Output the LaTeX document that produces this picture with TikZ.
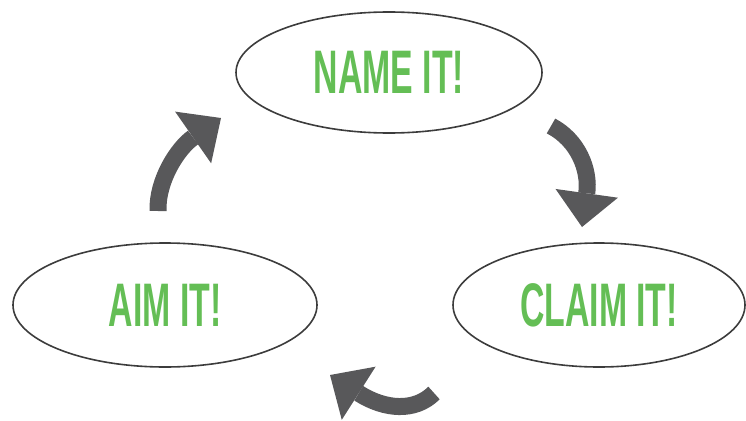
\documentclass[tikz,border=0pt]{standalone}
\usepackage{fontspec}
\usepackage{graphicx}
\setmainfont{Liberation Sans}
\usetikzlibrary{shapes.geometric,arrows.meta}
\definecolor{txtgreen}{HTML}{64BE55}
\definecolor{arrowgray}{HTML}{58585A}
\definecolor{rimgray}{HTML}{3C3C3C}
\tikzset{
  bubble/.style={ellipse, draw=rimgray, line width=1.6pt, inner sep=0pt,
    text=txtgreen, font=\bfseries\fontsize{61.5}{70}\selectfont},
  bigarrow/.style={draw=arrowgray, line width=17pt,
    -{Triangle[length=34pt,width=63pt,line width=0pt]}}
}
\newcommand{\cond}[1]{\scalebox{0.55}[1]{#1}}
\begin{document}
\begin{tikzpicture}[x=1pt,y=-1pt]
\useasboundingbox (0,0) rectangle (746,420);
\node[bubble, minimum width=306pt, minimum height=121pt] (name) at (389,72.5) {\cond{NAME IT!}};
\node[bubble, minimum width=304pt, minimum height=124pt] (aim) at (165,305) {\cond{AIM IT!}};
\node[bubble, minimum width=292pt, minimum height=124pt] (claim) at (599,305) {\cond{CLAIM IT!}};
% arrows
\coordinate (a1s) at (158,211);
\coordinate (a1e) at (221,118);
\coordinate (a2s) at (551,126);
\coordinate (a2e) at (582,227);
\coordinate (a3s) at (434,393);
\coordinate (a3e) at (330,375);
\draw[bigarrow] (a1s) .. controls (157,180) and (178,148) .. (a1e);
\draw[bigarrow] (a2s) .. controls (578,140) and (590,170) .. (a2e);
\draw[bigarrow] (a3s) .. controls (415,412) and (385,410) .. (a3e);
\end{tikzpicture}
\end{document}
